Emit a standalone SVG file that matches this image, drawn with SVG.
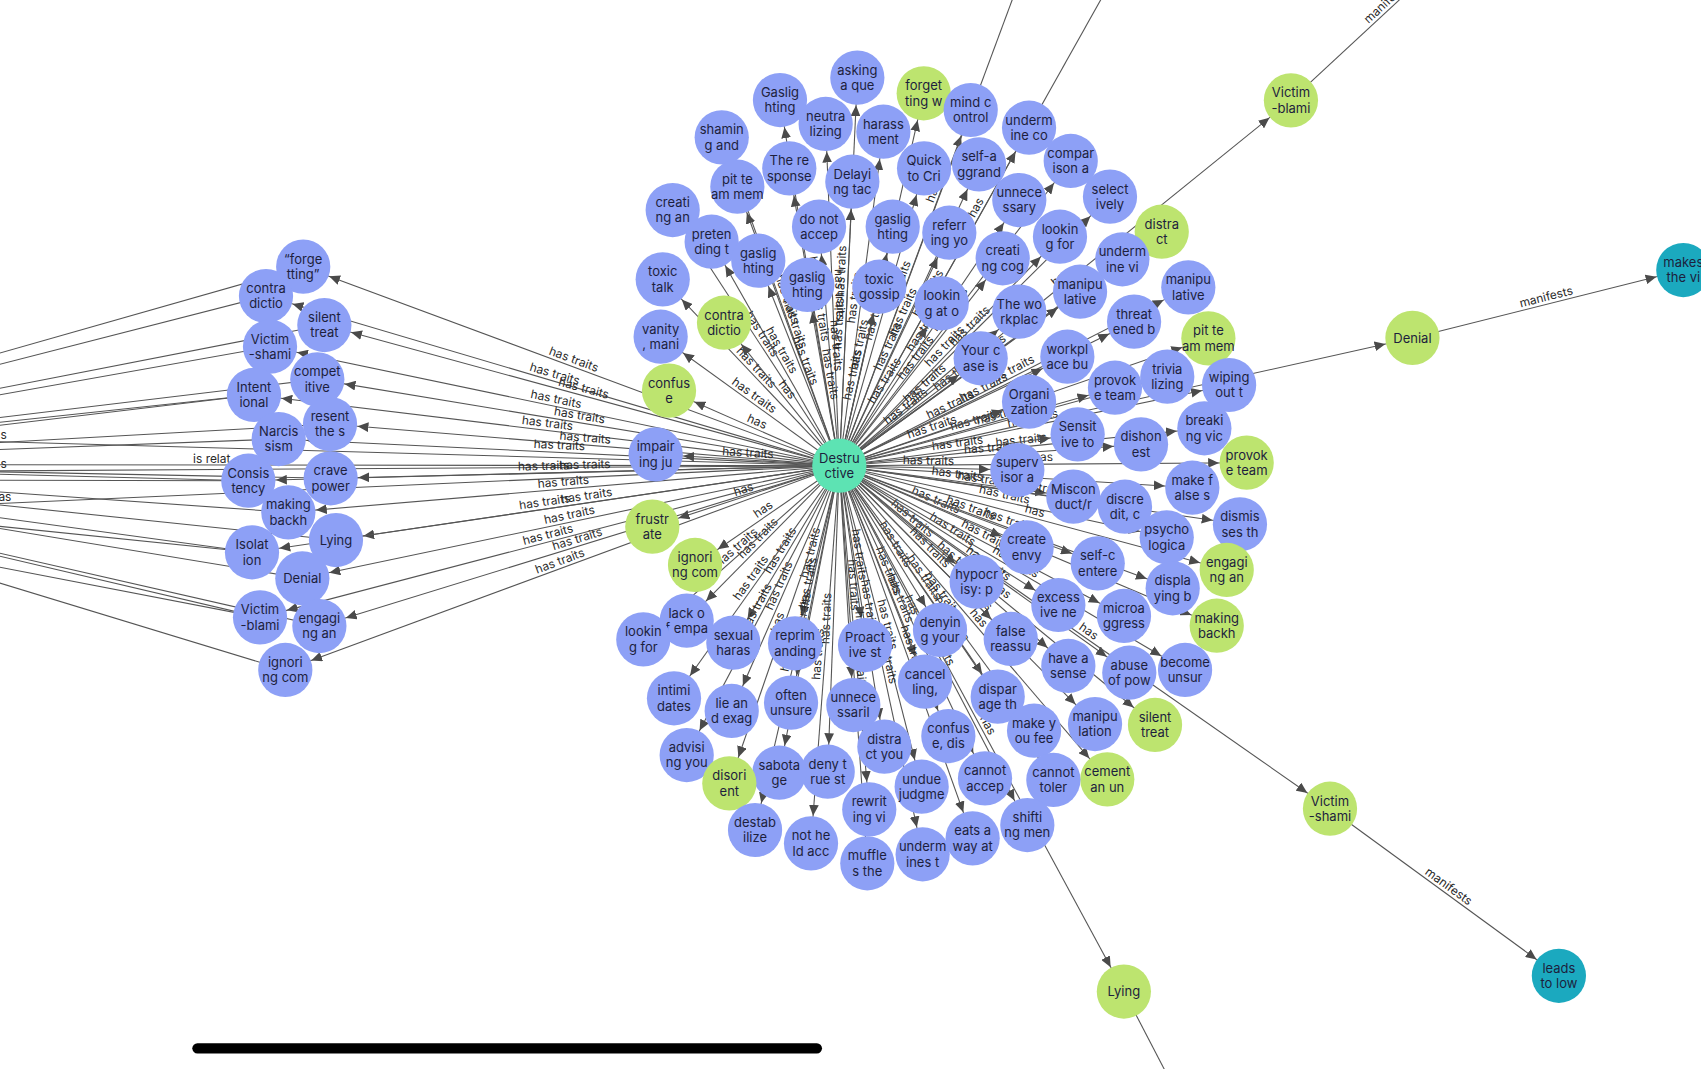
<svg xmlns="http://www.w3.org/2000/svg" width="1701" height="1069" viewBox="0 0 1701 1069">
<style>
.e{stroke:#555;stroke-width:1;fill:none}
.s{marker-start:url(#a)}
.t{marker-end:url(#a)}
text{font-family:Inter,"Noto Sans","DejaVu Sans",sans-serif}
.lb{font-size:11px;fill:#2a2a2a;text-anchor:middle}
.frag{font-size:11px;fill:#2a2a2a}
.nd text{font-size:12px;fill:#1d1f3d;text-anchor:middle}
.b circle{fill:#8da0f6}
.g circle{fill:#bde46f}
.h circle{fill:#5de3b3}
.tl circle{fill:#1ba9bf}
</style>
<defs>
<marker id="a" markerUnits="userSpaceOnUse" markerWidth="10" markerHeight="9" refX="35.5" refY="4.5" orient="auto-start-reverse"><path d="M0,0L10,4.5L0,9Z" fill="#4a4a4a"/></marker>
</defs>
<rect width="1701" height="1069" fill="#fff"/>
<g transform="scale(1.08482)">
<g id="connectors">
<path class="e" d="M-360,428L279.5,245.8"/>
<path class="e" d="M-360,428L245.2,272.9"/>
<path class="e" d="M-360,428L299,299.6"/>
<path class="e" d="M-360,428L248.9,319.6"/>
<path class="e" d="M-360,428L292.5,349.7"/>
<path class="e" d="M-360,428L234.1,364.1"/>
<path class="e" d="M-360,428L304.2,390.9"/>
<path class="e" d="M-360,428L256.9,404.7"/>
<path class="e" d="M-360,428L228.9,443.1"/>
<path class="e" d="M-360,428L304.8,440.9"/>
<path class="e" d="M-360,428L265.8,472.3"/>
<path class="e" d="M-360,428L309.7,497.8"/>
<path class="e" d="M-360,428L232.3,509.1"/>
<path class="e" d="M-360,428L278.7,533.1"/>
<path class="e" d="M-360,428L239.7,569.1"/>
<path class="e" d="M-360,428L294.4,577.1"/>
<path class="e" d="M-360,428L263,617.6"/>
<path class="e" d="M-420,442L234.1,364.1"/>
<path class="e" d="M-420,442L228.9,443.1"/>
<path class="e" d="M-420,442L232.3,509.1"/>
<path class="e" d="M-420,442L239.7,569.1"/>
<path class="e" d="M-360,428L773.7,429.3"/>
<text class="frag" x="178" y="426.5">is relat</text>
<path class="e" d="M-808,384L773.7,429.3"/>
<path class="e" d="M-808,439L773.7,429.3"/>
<path class="e" d="M-775,499L773.7,429.3"/>
<text class="frag" x="0.5" y="405">s</text>
<text class="frag" x="0.5" y="431.5">s</text>
<text class="frag" x="-1.5" y="461.5">as</text>
<path id="el1" class="e s" d="M279.5,245.8L773.7,429.3"/><text class="lb" dy="-3"><textPath href="#el1" startOffset="50%">has traits</textPath></text>
<path id="el2" class="e s" d="M245.2,272.9L773.7,429.3"/><text class="lb" dy="-3"><textPath href="#el2" startOffset="50%">has traits</textPath></text>
<path id="el3" class="e s" d="M299,299.6L773.7,429.3"/><text class="lb" dy="-3"><textPath href="#el3" startOffset="50%">has traits</textPath></text>
<path id="el4" class="e s" d="M248.9,319.6L773.7,429.3"/><text class="lb" dy="-3"><textPath href="#el4" startOffset="50%">has traits</textPath></text>
<path id="el5" class="e s" d="M292.5,349.7L773.7,429.3"/><text class="lb" dy="-3"><textPath href="#el5" startOffset="50%">has traits</textPath></text>
<path id="el6" class="e s" d="M234.1,364.1L773.7,429.3"/><text class="lb" dy="-3"><textPath href="#el6" startOffset="50%">has traits</textPath></text>
<path id="el7" class="e s" d="M304.2,390.9L773.7,429.3"/><text class="lb" dy="-3"><textPath href="#el7" startOffset="50%">has traits</textPath></text>
<path id="el8" class="e s" d="M256.9,404.7L773.7,429.3"/><text class="lb" dy="-3"><textPath href="#el8" startOffset="50%">has traits</textPath></text>
<path id="el9" class="e s" d="M228.9,443.1L773.7,429.3"/><text class="lb" dy="-3"><textPath href="#el9" startOffset="50%">has traits</textPath></text>
<path id="el10" class="e s" d="M304.8,440.9L773.7,429.3"/><text class="lb" dy="-3"><textPath href="#el10" startOffset="50%">has traits</textPath></text>
<path id="el11" class="e s" d="M265.8,472.3L773.7,429.3"/><text class="lb" dy="-3"><textPath href="#el11" startOffset="50%">has traits</textPath></text>
<path id="el12" class="e s" d="M309.7,497.8L773.7,429.3"/><text class="lb" dy="-3"><textPath href="#el12" startOffset="50%">has traits</textPath></text>
<path id="el13" class="e s" d="M232.3,509.1L773.7,429.3"/><text class="lb" dy="-3"><textPath href="#el13" startOffset="50%">has traits</textPath></text>
<path id="el14" class="e s" d="M278.7,533.1L773.7,429.3"/><text class="lb" dy="-3"><textPath href="#el14" startOffset="50%">has traits</textPath></text>
<path id="el15" class="e s" d="M239.7,569.1L773.7,429.3"/><text class="lb" dy="-3"><textPath href="#el15" startOffset="50%">has traits</textPath></text>
<path id="el16" class="e s" d="M294.4,577.1L773.7,429.3"/><text class="lb" dy="-3"><textPath href="#el16" startOffset="50%">has traits</textPath></text>
<path id="el17" class="e s" d="M263,617.6L773.7,429.3"/><text class="lb" dy="-3"><textPath href="#el17" startOffset="50%">has traits</textPath></text>
<path id="r1" class="e t" d="M773.7,429.3L790.3,71.6"/><text class="lb" dy="-3"><textPath href="#r1" startOffset="50%">has traits</textPath></text>
<path id="r2" class="e s" d="M719,92.2L773.7,429.3"/><text class="lb" dy="-3"><textPath href="#r2" startOffset="50%">has traits</textPath></text>
<path id="r3" class="e t" d="M773.7,429.3L851.5,86"/><text class="lb" dy="-3"><textPath href="#r3" startOffset="50%">has</textPath></text>
<path id="r4" class="e s" d="M761.1,114.3L773.7,429.3"/><text class="lb" dy="-3"><textPath href="#r4" startOffset="50%">has traits</textPath></text>
<path id="r5" class="e t" d="M773.7,429.3L814.3,121.4"/><text class="lb" dy="-3"><textPath href="#r5" startOffset="50%">has traits</textPath></text>
<path id="r6" class="e s" d="M665.3,126.6L773.7,429.3"/><text class="lb" dy="-3"><textPath href="#r6" startOffset="50%">has traits</textPath></text>
<path id="r7" class="e s" d="M727.6,155.2L773.7,429.3"/><text class="lb" dy="-3"><textPath href="#r7" startOffset="50%">has traits</textPath></text>
<path id="r8" class="e t" d="M773.7,429.3L785.7,167.5"/><text class="lb" dy="-3"><textPath href="#r8" startOffset="50%">has traits</textPath></text>
<path id="r9" class="e t" d="M773.7,429.3L851.8,155.2"/><text class="lb" dy="-3"><textPath href="#r9" startOffset="50%">has traits</textPath></text>
<path id="r10" class="e s" d="M679.7,172.1L773.7,429.3"/><text class="lb" dy="-3"><textPath href="#r10" startOffset="50%">has traits</textPath></text>
<path id="r11" class="e s" d="M620.1,193.6L773.7,429.3"/><text class="lb" dy="-3"><textPath href="#r11" startOffset="50%">has traits</textPath></text>
<path id="r12" class="e s" d="M755,209L773.7,429.3"/><text class="lb" dy="-3"><textPath href="#r12" startOffset="50%">has traits</textPath></text>
<path id="r13" class="e t" d="M773.7,429.3L822.9,209"/><text class="lb" dy="-3"><textPath href="#r13" startOffset="50%">has traits</textPath></text>
<path id="r14" class="e s" d="M656,222.8L773.7,429.3"/><text class="lb" dy="-3"><textPath href="#r14" startOffset="50%">has traits</textPath></text>
<path id="r15" class="e s" d="M699,240.3L773.7,429.3"/><text class="lb" dy="-3"><textPath href="#r15" startOffset="50%">has traits</textPath></text>
<path id="r16" class="e s" d="M610.9,257.5L773.7,429.3"/><text class="lb" dy="-3"><textPath href="#r16" startOffset="50%">has traits</textPath></text>
<path id="r17" class="e s" d="M744.2,262.7L773.7,429.3"/><text class="lb" dy="-3"><textPath href="#r17" startOffset="50%">has traits</textPath></text>
<path id="r18" class="e t" d="M773.7,429.3L810.6,264.3"/><text class="lb" dy="-3"><textPath href="#r18" startOffset="50%">has traits</textPath></text>
<path id="r19" class="e s" d="M667.4,297.5L773.7,429.3"/><text class="lb" dy="-3"><textPath href="#r19" startOffset="50%">has</textPath></text>
<path id="r20" class="e s" d="M609,310.4L773.7,429.3"/><text class="lb" dy="-3"><textPath href="#r20" startOffset="50%">has traits</textPath></text>
<path id="r21" class="e t" d="M773.7,429.3L894.8,101.4"/><text class="lb" dy="-3"><textPath href="#r21" startOffset="50%">has traits</textPath></text>
<path id="r22" class="e t" d="M773.7,429.3L948.6,117.7"/><text class="lb" dy="-3"><textPath href="#r22" startOffset="50%">has traits</textPath></text>
<path id="r23" class="e t" d="M773.7,429.3L902.5,151.5"/><text class="lb" dy="-3"><textPath href="#r23" startOffset="50%">has traits</textPath></text>
<path id="r24" class="e t" d="M773.7,429.3L987,148.4"/><text class="lb" dy="-3"><textPath href="#r24" startOffset="50%">has traits</textPath></text>
<path id="r25" class="e t" d="M773.7,429.3L939.6,184.4"/><text class="lb" dy="-3"><textPath href="#r25" startOffset="50%">has traits</textPath></text>
<path id="r26" class="e t" d="M773.7,429.3L1023.2,181.3"/><text class="lb" dy="-3"><textPath href="#r26" startOffset="50%">has traits</textPath></text>
<path id="r27" class="e t" d="M773.7,429.3L875.1,214.5"/><text class="lb" dy="-3"><textPath href="#r27" startOffset="50%">has traits</textPath></text>
<path id="r28" class="e t" d="M773.7,429.3L1070.9,213.6"/><text class="lb" dy="-3"><textPath href="#r28" startOffset="50%">has</textPath></text>
<path id="r29" class="e t" d="M773.7,429.3L977.1,218.2"/><text class="lb" dy="-3"><textPath href="#r29" startOffset="50%">has traits</textPath></text>
<path id="r30" class="e t" d="M773.7,429.3L924.3,238.1"/><text class="lb" dy="-3"><textPath href="#r30" startOffset="50%">has traits</textPath></text>
<path id="r31" class="e t" d="M773.7,429.3L1034.6,239"/><text class="lb" dy="-3"><textPath href="#r31" startOffset="50%">has traits</textPath></text>
<path id="r32" class="e t" d="M773.7,429.3L868.1,279.6"/><text class="lb" dy="-3"><textPath href="#r32" startOffset="50%">has traits</textPath></text>
<path id="r33" class="e t" d="M773.7,429.3L995.6,268.9"/><text class="lb" dy="-3"><textPath href="#r33" startOffset="50%">has traits</textPath></text>
<path id="r34" class="e t" d="M773.7,429.3L1095.4,264.9"/><text class="lb" dy="-3"><textPath href="#r34" startOffset="50%">has traits</textPath></text>
<path id="r35" class="e t" d="M773.7,429.3L939.6,287.3"/><text class="lb" dy="-3"><textPath href="#r35" startOffset="50%">has traits</textPath></text>
<path id="r36" class="e t" d="M773.7,429.3L1045.4,296.5"/><text class="lb" dy="-3"><textPath href="#r36" startOffset="50%">has traits</textPath></text>
<path id="r37" class="e t" d="M773.7,429.3L1113.9,311.9"/><text class="lb" dy="-3"><textPath href="#r37" startOffset="50%">has</textPath></text>
<path id="r38" class="e t" d="M773.7,429.3L904,330.3"/><text class="lb" dy="-3"><textPath href="#r38" startOffset="50%">has traits</textPath></text>
<path id="r39" class="e t" d="M773.7,429.3L983.9,328.8"/><text class="lb" dy="-3"><textPath href="#r39" startOffset="50%">has traits</textPath></text>
<path id="r40" class="e t" d="M773.7,429.3L1076,347.2"/><text class="lb" dy="-3"><textPath href="#r40" startOffset="50%">has traits</textPath></text>
<path id="r41" class="e t" d="M773.7,429.3L1027.8,357.4"/><text class="lb" dy="-3"><textPath href="#r41" startOffset="50%">has traits</textPath></text>
<path id="r42" class="e t" d="M773.7,429.3L1133,354.9"/><text class="lb" dy="-3"><textPath href="#r42" startOffset="50%">has traits</textPath></text>
<path id="r43" class="e t" d="M773.7,429.3L948.6,370.3"/><text class="lb" dy="-3"><textPath href="#r43" startOffset="50%">has traits</textPath></text>
<path id="r44" class="e t" d="M773.7,429.3L1110.2,394.8"/><text class="lb" dy="-3"><textPath href="#r44" startOffset="50%">has traits</textPath></text>
<path id="r45" class="e t" d="M773.7,429.3L993.4,400.4"/><text class="lb" dy="-3"><textPath href="#r45" startOffset="50%">has traits</textPath></text>
<path id="r46" class="e t" d="M773.7,429.3L1051.8,409.6"/><text class="lb" dy="-3"><textPath href="#r46" startOffset="50%">has traits</textPath></text>
<path id="r47" class="e t" d="M773.7,429.3L1149.2,426.5"/><text class="lb" dy="-3"><textPath href="#r47" startOffset="50%">has</textPath></text>
<path id="r48" class="e t" d="M773.7,429.3L937.8,433.3"/><text class="lb" dy="-3"><textPath href="#r48" startOffset="50%">has traits</textPath></text>
<path id="r49" class="e t" d="M773.7,429.3L1099.1,449.6"/><text class="lb" dy="-3"><textPath href="#r49" startOffset="50%">has traits</textPath></text>
<path id="r50" class="e t" d="M773.7,429.3L989.4,457.8"/><text class="lb" dy="-3"><textPath href="#r50" startOffset="50%">has traits</textPath></text>
<path id="r51" class="e t" d="M773.7,429.3L1037,467.1"/><text class="lb" dy="-3"><textPath href="#r51" startOffset="50%">has traits</textPath></text>
<path id="r52" class="e t" d="M773.7,429.3L1143,483.3"/><text class="lb" dy="-3"><textPath href="#r52" startOffset="50%">has traits</textPath></text>
<path id="r53" class="e t" d="M773.7,429.3L1075.5,495.3"/><text class="lb" dy="-3"><textPath href="#r53" startOffset="50%">has traits</textPath></text>
<path id="r54" class="e t" d="M773.7,429.3L946.4,504.5"/><text class="lb" dy="-3"><textPath href="#r54" startOffset="50%">has traits</textPath></text>
<path id="r55" class="e t" d="M773.7,429.3L1130.8,525.4"/><text class="lb" dy="-3"><textPath href="#r55" startOffset="50%">has</textPath></text>
<path id="r56" class="e t" d="M773.7,429.3L1011.9,519.3"/><text class="lb" dy="-3"><textPath href="#r56" startOffset="50%">has traits</textPath></text>
<path id="r57" class="e t" d="M773.7,429.3L900.3,536.2"/><text class="lb" dy="-3"><textPath href="#r57" startOffset="50%">has traits</textPath></text>
<path id="r58" class="e t" d="M773.7,429.3L1081,542.3"/><text class="lb" dy="-3"><textPath href="#r58" startOffset="50%">has traits</textPath></text>
<path id="r59" class="e t" d="M773.7,429.3L975.6,557.7"/><text class="lb" dy="-3"><textPath href="#r59" startOffset="50%">has traits</textPath></text>
<path id="r60" class="e t" d="M773.7,429.3L1036.1,567.8"/><text class="lb" dy="-3"><textPath href="#r60" startOffset="50%">has traits</textPath></text>
<path id="r61" class="e t" d="M773.7,429.3L1121.6,576.8"/><text class="lb" dy="-3"><textPath href="#r61" startOffset="50%">has</textPath></text>
<path id="r62" class="e t" d="M773.7,429.3L866.5,580.7"/><text class="lb" dy="-3"><textPath href="#r62" startOffset="50%">has traits</textPath></text>
<path id="r63" class="e t" d="M773.7,429.3L931.7,589"/><text class="lb" dy="-3"><textPath href="#r63" startOffset="50%">has traits</textPath></text>
<path id="r64" class="e t" d="M773.7,429.3L984.8,613.9"/><text class="lb" dy="-3"><textPath href="#r64" startOffset="50%">has traits</textPath></text>
<path id="r65" class="e t" d="M773.7,429.3L1041,620.1"/><text class="lb" dy="-3"><textPath href="#r65" startOffset="50%">has traits</textPath></text>
<path id="r66" class="e t" d="M773.7,429.3L1092.4,617.6"/><text class="lb" dy="-3"><textPath href="#r66" startOffset="50%">has traits</textPath></text>
<path id="r67" class="e t" d="M773.7,429.3L852.7,628.4"/><text class="lb" dy="-3"><textPath href="#r67" startOffset="50%">has traits</textPath></text>
<path id="r68" class="e t" d="M773.7,429.3L919.7,642.2"/><text class="lb" dy="-3"><textPath href="#r68" startOffset="50%">has traits</textPath></text>
<path id="r69" class="e t" d="M773.7,429.3L1009.4,667.4"/><text class="lb" dy="-3"><textPath href="#r69" startOffset="50%">has traits</textPath></text>
<path id="r70" class="e t" d="M773.7,429.3L1064.7,668.3"/><text class="lb" dy="-3"><textPath href="#r70" startOffset="50%">has</textPath></text>
<path id="r71" class="e t" d="M773.7,429.3L874.2,678.5"/><text class="lb" dy="-3"><textPath href="#r71" startOffset="50%">has traits</textPath></text>
<path id="r72" class="e t" d="M773.7,429.3L953.2,673.6"/><text class="lb" dy="-3"><textPath href="#r72" startOffset="50%">has traits</textPath></text>
<path id="r73" class="e t" d="M773.7,429.3L908,717.5"/><text class="lb" dy="-3"><textPath href="#r73" startOffset="50%">has traits</textPath></text>
<path id="r74" class="e t" d="M773.7,429.3L971,719"/><text class="lb" dy="-3"><textPath href="#r74" startOffset="50%">has traits</textPath></text>
<path id="r75" class="e t" d="M773.7,429.3L1020.7,718.4"/><text class="lb" dy="-3"><textPath href="#r75" startOffset="50%">has</textPath></text>
<path id="r76" class="e t" d="M773.7,429.3L849.6,725.2"/><text class="lb" dy="-3"><textPath href="#r76" startOffset="50%">has traits</textPath></text>
<path id="r77" class="e t" d="M773.7,429.3L947,760.5"/><text class="lb" dy="-3"><textPath href="#r77" startOffset="50%">has traits</textPath></text>
<path id="r78" class="e t" d="M773.7,429.3L896.6,772.8"/><text class="lb" dy="-3"><textPath href="#r78" startOffset="50%">has traits</textPath></text>
<path id="r79" class="e t" d="M773.7,429.3L850.5,787.5"/><text class="lb" dy="-3"><textPath href="#r79" startOffset="50%">has traits</textPath></text>
<path id="r80" class="e s" d="M633,572.1L773.7,429.3"/><text class="lb" dy="-3"><textPath href="#r80" startOffset="50%">has traits</textPath></text>
<path id="r81" class="e s" d="M593,589.4L773.7,429.3"/><text class="lb" dy="-3"><textPath href="#r81" startOffset="50%">has traits</textPath></text>
<path id="r82" class="e s" d="M676,592.4L773.7,429.3"/><text class="lb" dy="-3"><textPath href="#r82" startOffset="50%">has traits</textPath></text>
<path id="r83" class="e s" d="M732.9,593L773.7,429.3"/><text class="lb" dy="-3"><textPath href="#r83" startOffset="50%">has traits</textPath></text>
<path id="r84" class="e t" d="M773.7,429.3L797.4,594.6"/><text class="lb" dy="-3"><textPath href="#r84" startOffset="50%">has traits</textPath></text>
<path id="r85" class="e s" d="M621.3,643.7L773.7,429.3"/><text class="lb" dy="-3"><textPath href="#r85" startOffset="50%">has traits</textPath></text>
<path id="r86" class="e s" d="M674.5,655.4L773.7,429.3"/><text class="lb" dy="-3"><textPath href="#r86" startOffset="50%">has traits</textPath></text>
<path id="r87" class="e s" d="M729.2,647.7L773.7,429.3"/><text class="lb" dy="-3"><textPath href="#r87" startOffset="50%">has traits</textPath></text>
<path id="r88" class="e t" d="M773.7,429.3L786.6,649.9"/><text class="lb" dy="-3"><textPath href="#r88" startOffset="50%">has traits</textPath></text>
<path id="r89" class="e s" d="M633,696L773.7,429.3"/><text class="lb" dy="-3"><textPath href="#r89" startOffset="50%">has traits</textPath></text>
<path id="r90" class="e s" d="M672.3,722.1L773.7,429.3"/><text class="lb" dy="-3"><textPath href="#r90" startOffset="50%">has</textPath></text>
<path id="r91" class="e s" d="M718.4,712.3L773.7,429.3"/><text class="lb" dy="-3"><textPath href="#r91" startOffset="50%">has traits</textPath></text>
<path id="r92" class="e s" d="M763,711.4L773.7,429.3"/><text class="lb" dy="-3"><textPath href="#r92" startOffset="50%">has traits</textPath></text>
<path id="r93" class="e t" d="M773.7,429.3L815.2,688.3"/><text class="lb" dy="-3"><textPath href="#r93" startOffset="50%">has traits</textPath></text>
<path id="r94" class="e t" d="M773.7,429.3L801.3,746.1"/><text class="lb" dy="-3"><textPath href="#r94" startOffset="50%">has traits</textPath></text>
<path id="r95" class="e s" d="M696,765.1L773.7,429.3"/><text class="lb" dy="-3"><textPath href="#r95" startOffset="50%">has traits</textPath></text>
<path id="r96" class="e s" d="M747.6,777.4L773.7,429.3"/><text class="lb" dy="-3"><textPath href="#r96" startOffset="50%">has traits</textPath></text>
<path id="r97" class="e t" d="M773.7,429.3L799.5,795.8"/><text class="lb" dy="-3"><textPath href="#r97" startOffset="50%">has traits</textPath></text>
<path id="r98" class="e s" d="M616.7,360.1L773.7,429.3"/><text class="lb" dy="-3"><textPath href="#r98" startOffset="50%">has</textPath></text>
<path id="r99" class="e s" d="M604.4,418.8L773.7,429.3"/><text class="lb" dy="-3"><textPath href="#r99" startOffset="50%">has traits</textPath></text>
<path id="r100" class="e s" d="M601.3,485.5L773.7,429.3"/><text class="lb" dy="-3"><textPath href="#r100" startOffset="50%">has</textPath></text>
<path id="r101" class="e s" d="M640.7,520.8L773.7,429.3"/><text class="lb" dy="-3"><textPath href="#r101" startOffset="50%">has</textPath></text>
<path id="f1" class="e t" d="M773.7,429.3L1190,92.5"/><text class="lb" dy="-3"><textPath href="#f1" startOffset="50%">has</textPath></text>
<path id="f2" class="e t" d="M773.7,429.3L1302,311.5"/><text class="lb" dy="-3"><textPath href="#f2" startOffset="50%">has</textPath></text>
<path id="f3" class="e t" d="M773.7,429.3L1226,745.5"/><text class="lb" dy="-3"><textPath href="#f3" startOffset="50%">has</textPath></text>
<path id="f4" class="e t" d="M773.7,429.3L1036,914"/><text class="lb" dy="-3"><textPath href="#f4" startOffset="50%">has</textPath></text>
<path id="o1" class="e t" d="M773.7,429.3L959,-70"/><text class="lb" dy="-3"><textPath href="#o1" startOffset="50%">has</textPath></text>
<path id="o2" class="e t" d="M773.7,429.3L1037,-40"/><text class="lb" dy="-3"><textPath href="#o2" startOffset="50%">has</textPath></text>
<path id="m1" class="e t" d="M1190,92.5L1374,-78"/><text class="lb" dy="-3"><textPath href="#m1" startOffset="50%">manifests</textPath></text>
<path id="m2" class="e t" d="M1302,311.5L1551.7,248.9"/><text class="lb" dy="-3"><textPath href="#m2" startOffset="50%">manifests</textPath></text>
<path id="m3" class="e t" d="M1226,745.5L1437,899.5"/><text class="lb" dy="-3"><textPath href="#m3" startOffset="50%">manifests</textPath></text>
<path id="m4" class="e t" d="M1036,914L1140,1114"/>
</g>
<g id="nodes">
<g id="n_forgetting" class="nd b" transform="translate(279.5,245.8)"><circle r="25"/><text><tspan x="0" y="-2.7">“forge</tspan><tspan x="0" y="11.3">tting”</tspan></text></g>
<g id="n_contradictio_l" class="nd b" transform="translate(245.2,272.9)"><circle r="25"/><text><tspan x="0" y="-2.7">contra</tspan><tspan x="0" y="11.3">dictio</tspan></text></g>
<g id="n_victimshami_l" class="nd b" transform="translate(248.9,319.6)"><circle r="25"/><text><tspan x="0" y="-2.7">Victim</tspan><tspan x="0" y="11.3">-shami</tspan></text></g>
<g id="n_silent_l" class="nd b" transform="translate(299,299.6)"><circle r="25"/><text><tspan x="0" y="-2.7">silent</tspan><tspan x="0" y="11.3">treat</tspan></text></g>
<g id="n_intentional" class="nd b" transform="translate(234.1,364.1)"><circle r="25"/><text><tspan x="0" y="-2.7">Intent</tspan><tspan x="0" y="11.3">ional</tspan></text></g>
<g id="n_competitive" class="nd b" transform="translate(292.5,349.7)"><circle r="25"/><text><tspan x="0" y="-2.7">compet</tspan><tspan x="0" y="11.3">itive</tspan></text></g>
<g id="n_narcissism" class="nd b" transform="translate(256.9,404.7)"><circle r="25"/><text><tspan x="0" y="-2.7">Narcis</tspan><tspan x="0" y="11.3">sism</tspan></text></g>
<g id="n_resent" class="nd b" transform="translate(304.2,390.9)"><circle r="25"/><text><tspan x="0" y="-2.7">resent</tspan><tspan x="0" y="11.3">the s</tspan></text></g>
<g id="n_consistency" class="nd b" transform="translate(228.9,443.1)"><circle r="25"/><text><tspan x="0" y="-2.7">Consis</tspan><tspan x="0" y="11.3">tency</tspan></text></g>
<g id="n_crave" class="nd b" transform="translate(304.8,440.9)"><circle r="25"/><text><tspan x="0" y="-2.7">crave</tspan><tspan x="0" y="11.3">power</tspan></text></g>
<g id="n_making_l" class="nd b" transform="translate(265.8,472.3)"><circle r="25"/><text><tspan x="0" y="-2.7">making</tspan><tspan x="0" y="11.3">backh</tspan></text></g>
<g id="n_isolation" class="nd b" transform="translate(232.3,509.1)"><circle r="25"/><text><tspan x="0" y="-2.7">Isolat</tspan><tspan x="0" y="11.3">ion</tspan></text></g>
<g id="n_lying_l" class="nd b" transform="translate(309.7,497.8)"><circle r="25"/><text y="4.3">Lying</text></g>
<g id="n_denial_l" class="nd b" transform="translate(278.7,533.1)"><circle r="25"/><text y="4.3">Denial</text></g>
<g id="n_victimblami_l" class="nd b" transform="translate(239.7,569.1)"><circle r="25"/><text><tspan x="0" y="-2.7">Victim</tspan><tspan x="0" y="11.3">-blami</tspan></text></g>
<g id="n_engaging_l" class="nd b" transform="translate(294.4,577.1)"><circle r="25"/><text><tspan x="0" y="-2.7">engagi</tspan><tspan x="0" y="11.3">ng an</tspan></text></g>
<g id="n_ignoring_l" class="nd b" transform="translate(263,617.6)"><circle r="25"/><text><tspan x="0" y="-2.7">ignori</tspan><tspan x="0" y="11.3">ng com</tspan></text></g>
<g id="n_asking" class="nd b" transform="translate(790.3,71.6)"><circle r="25"/><text><tspan x="0" y="-2.7">asking</tspan><tspan x="0" y="11.3">a que</tspan></text></g>
<g id="n_gaslighting1" class="nd b" transform="translate(719,92.2)"><circle r="25"/><text><tspan x="0" y="-2.7">Gaslig</tspan><tspan x="0" y="11.3">hting</tspan></text></g>
<g id="n_forgettingw" class="nd g" transform="translate(851.5,86)"><circle r="25"/><text><tspan x="0" y="-2.7">forget</tspan><tspan x="0" y="11.3">ting w</tspan></text></g>
<g id="n_shaming" class="nd b" transform="translate(665.3,126.6)"><circle r="25"/><text><tspan x="0" y="-2.7">shamin</tspan><tspan x="0" y="11.3">g and</tspan></text></g>
<g id="n_neutralizing" class="nd b" transform="translate(761.1,114.3)"><circle r="25"/><text><tspan x="0" y="-2.7">neutra</tspan><tspan x="0" y="11.3">lizing</tspan></text></g>
<g id="n_harassment" class="nd b" transform="translate(814.3,121.4)"><circle r="25"/><text><tspan x="0" y="-2.7">harass</tspan><tspan x="0" y="11.3">ment</tspan></text></g>
<g id="n_mindcontrol" class="nd b" transform="translate(894.8,101.4)"><circle r="25"/><text><tspan x="0" y="-2.7">mind c</tspan><tspan x="0" y="11.3">ontrol</tspan></text></g>
<g id="n_underminecontrol" class="nd b" transform="translate(948.6,117.7)"><circle r="25"/><text><tspan x="0" y="-2.7">underm</tspan><tspan x="0" y="11.3">ine co</tspan></text></g>
<g id="n_response" class="nd b" transform="translate(727.6,155.2)"><circle r="25"/><text><tspan x="0" y="-2.7">The re</tspan><tspan x="0" y="11.3">sponse</tspan></text></g>
<g id="n_delaying" class="nd b" transform="translate(785.7,167.5)"><circle r="25"/><text><tspan x="0" y="-2.7">Delayi</tspan><tspan x="0" y="11.3">ng tac</tspan></text></g>
<g id="n_quick" class="nd b" transform="translate(851.8,155.2)"><circle r="25"/><text><tspan x="0" y="-2.7">Quick</tspan><tspan x="0" y="11.3">to Cri</tspan></text></g>
<g id="n_selfaggrand" class="nd b" transform="translate(902.5,151.5)"><circle r="25"/><text><tspan x="0" y="-2.7">self-a</tspan><tspan x="0" y="11.3">ggrand</tspan></text></g>
<g id="n_comparison" class="nd b" transform="translate(987,148.4)"><circle r="25"/><text><tspan x="0" y="-2.7">compar</tspan><tspan x="0" y="11.3">ison a</tspan></text></g>
<g id="n_pitteam1" class="nd b" transform="translate(679.7,172.1)"><circle r="25"/><text><tspan x="0" y="-2.7">pit te</tspan><tspan x="0" y="11.3">am mem</tspan></text></g>
<g id="n_creatingan" class="nd b" transform="translate(620.1,193.6)"><circle r="25"/><text><tspan x="0" y="-2.7">creati</tspan><tspan x="0" y="11.3">ng an</tspan></text></g>
<g id="n_donotaccep" class="nd b" transform="translate(755,209)"><circle r="25"/><text><tspan x="0" y="-2.7">do not</tspan><tspan x="0" y="11.3">accep</tspan></text></g>
<g id="n_gaslighting2" class="nd b" transform="translate(822.9,209)"><circle r="25"/><text><tspan x="0" y="-2.7">gaslig</tspan><tspan x="0" y="11.3">hting</tspan></text></g>
<g id="n_unnecessary" class="nd b" transform="translate(939.6,184.4)"><circle r="25"/><text><tspan x="0" y="-2.7">unnece</tspan><tspan x="0" y="11.3">ssary</tspan></text></g>
<g id="n_selectively" class="nd b" transform="translate(1023.2,181.3)"><circle r="25"/><text><tspan x="0" y="-2.7">select</tspan><tspan x="0" y="11.3">ively</tspan></text></g>
<g id="n_referring" class="nd b" transform="translate(875.1,214.5)"><circle r="25"/><text><tspan x="0" y="-2.7">referr</tspan><tspan x="0" y="11.3">ing yo</tspan></text></g>
<g id="n_distract" class="nd g" transform="translate(1070.9,213.6)"><circle r="25"/><text><tspan x="0" y="-2.7">distra</tspan><tspan x="0" y="11.3">ct</tspan></text></g>
<g id="n_lookingfor1" class="nd b" transform="translate(977.1,218.2)"><circle r="25"/><text><tspan x="0" y="-2.7">lookin</tspan><tspan x="0" y="11.3">g for</tspan></text></g>
<g id="n_pretending" class="nd b" transform="translate(656,222.8)"><circle r="25"/><text><tspan x="0" y="-2.7">preten</tspan><tspan x="0" y="11.3">ding t</tspan></text></g>
<g id="n_gaslighting3" class="nd b" transform="translate(699,240.3)"><circle r="25"/><text><tspan x="0" y="-2.7">gaslig</tspan><tspan x="0" y="11.3">hting</tspan></text></g>
<g id="n_creatingcog" class="nd b" transform="translate(924.3,238.1)"><circle r="25"/><text><tspan x="0" y="-2.7">creati</tspan><tspan x="0" y="11.3">ng cog</tspan></text></g>
<g id="n_underminevi" class="nd b" transform="translate(1034.6,239)"><circle r="25"/><text><tspan x="0" y="-2.7">underm</tspan><tspan x="0" y="11.3">ine vi</tspan></text></g>
<g id="n_toxictalk" class="nd b" transform="translate(610.9,257.5)"><circle r="25"/><text><tspan x="0" y="-2.7">toxic</tspan><tspan x="0" y="11.3">talk</tspan></text></g>
<g id="n_gaslighting4" class="nd b" transform="translate(744.2,262.7)"><circle r="25"/><text><tspan x="0" y="-2.7">gaslig</tspan><tspan x="0" y="11.3">hting</tspan></text></g>
<g id="n_toxicgossip" class="nd b" transform="translate(810.6,264.3)"><circle r="25"/><text><tspan x="0" y="-2.7">toxic</tspan><tspan x="0" y="11.3">gossip</tspan></text></g>
<g id="n_manipulative1" class="nd b" transform="translate(995.6,268.9)"><circle r="25"/><text><tspan x="0" y="-2.7">manipu</tspan><tspan x="0" y="11.3">lative</tspan></text></g>
<g id="n_manipulative2" class="nd b" transform="translate(1095.4,264.9)"><circle r="25"/><text><tspan x="0" y="-2.7">manipu</tspan><tspan x="0" y="11.3">lative</tspan></text></g>
<g id="n_lookingat" class="nd b" transform="translate(868.1,279.6)"><circle r="25"/><text><tspan x="0" y="-2.7">lookin</tspan><tspan x="0" y="11.3">g at o</tspan></text></g>
<g id="n_workplace1" class="nd b" transform="translate(939.6,287.3)"><circle r="25"/><text><tspan x="0" y="-2.7">The wo</tspan><tspan x="0" y="11.3">rkplac</tspan></text></g>
<g id="n_threatened" class="nd b" transform="translate(1045.4,296.5)"><circle r="25"/><text><tspan x="0" y="-2.7">threat</tspan><tspan x="0" y="11.3">ened b</tspan></text></g>
<g id="n_contradictio_c" class="nd g" transform="translate(667.4,297.5)"><circle r="25"/><text><tspan x="0" y="-2.7">contra</tspan><tspan x="0" y="11.3">dictio</tspan></text></g>
<g id="n_vanity" class="nd b" transform="translate(609,310.4)"><circle r="25"/><text><tspan x="0" y="-2.7">vanity</tspan><tspan x="0" y="11.3">, mani</tspan></text></g>
<g id="n_pitteam2" class="nd g" transform="translate(1113.9,311.9)"><circle r="25"/><text><tspan x="0" y="-2.7">pit te</tspan><tspan x="0" y="11.3">am mem</tspan></text></g>
<g id="n_yourcase" class="nd b" transform="translate(904,330.3)"><circle r="25"/><text><tspan x="0" y="-2.7">Your c</tspan><tspan x="0" y="11.3">ase is</tspan></text></g>
<g id="n_workplace2" class="nd b" transform="translate(983.9,328.8)"><circle r="25"/><text><tspan x="0" y="-2.7">workpl</tspan><tspan x="0" y="11.3">ace bu</tspan></text></g>
<g id="n_trivializing" class="nd b" transform="translate(1076,347.2)"><circle r="25"/><text><tspan x="0" y="-2.7">trivia</tspan><tspan x="0" y="11.3">lizing</tspan></text></g>
<g id="n_provoke1" class="nd b" transform="translate(1027.8,357.4)"><circle r="25"/><text><tspan x="0" y="-2.7">provok</tspan><tspan x="0" y="11.3">e team</tspan></text></g>
<g id="n_wiping" class="nd b" transform="translate(1133,354.9)"><circle r="25"/><text><tspan x="0" y="-2.7">wiping</tspan><tspan x="0" y="11.3">out t</tspan></text></g>
<g id="n_confuse" class="nd g" transform="translate(616.7,360.1)"><circle r="25"/><text><tspan x="0" y="-2.7">confus</tspan><tspan x="0" y="11.3">e</tspan></text></g>
<g id="n_organization" class="nd b" transform="translate(948.6,370.3)"><circle r="25"/><text><tspan x="0" y="-2.7">Organi</tspan><tspan x="0" y="11.3">zation</tspan></text></g>
<g id="n_breaking" class="nd b" transform="translate(1110.2,394.8)"><circle r="25"/><text><tspan x="0" y="-2.7">breaki</tspan><tspan x="0" y="11.3">ng vic</tspan></text></g>
<g id="n_sensitive" class="nd b" transform="translate(993.4,400.4)"><circle r="25"/><text><tspan x="0" y="-2.7">Sensit</tspan><tspan x="0" y="11.3">ive to</tspan></text></g>
<g id="n_dishonest" class="nd b" transform="translate(1051.8,409.6)"><circle r="25"/><text><tspan x="0" y="-2.7">dishon</tspan><tspan x="0" y="11.3">est</tspan></text></g>
<g id="n_impairing" class="nd b" transform="translate(604.4,418.8)"><circle r="25"/><text><tspan x="0" y="-2.7">impair</tspan><tspan x="0" y="11.3">ing ju</tspan></text></g>
<g id="n_provoke2" class="nd g" transform="translate(1149.2,426.5)"><circle r="25"/><text><tspan x="0" y="-2.7">provok</tspan><tspan x="0" y="11.3">e team</tspan></text></g>
<g id="n_supervisor" class="nd b" transform="translate(937.8,433.3)"><circle r="25"/><text><tspan x="0" y="-2.7">superv</tspan><tspan x="0" y="11.3">isor a</tspan></text></g>
<g id="n_makefalse" class="nd b" transform="translate(1099.1,449.6)"><circle r="25"/><text><tspan x="0" y="-2.7">make f</tspan><tspan x="0" y="11.3">alse s</tspan></text></g>
<g id="n_misconduct" class="nd b" transform="translate(989.4,457.8)"><circle r="25"/><text><tspan x="0" y="-2.7">Miscon</tspan><tspan x="0" y="11.3">duct/r</tspan></text></g>
<g id="n_discredit" class="nd b" transform="translate(1037,467.1)"><circle r="25"/><text><tspan x="0" y="-2.7">discre</tspan><tspan x="0" y="11.3">dit, c</tspan></text></g>
<g id="n_dismisses" class="nd b" transform="translate(1143,483.3)"><circle r="25"/><text><tspan x="0" y="-2.7">dismis</tspan><tspan x="0" y="11.3">ses th</tspan></text></g>
<g id="n_frustrate" class="nd g" transform="translate(601.3,485.5)"><circle r="25"/><text><tspan x="0" y="-2.7">frustr</tspan><tspan x="0" y="11.3">ate</tspan></text></g>
<g id="n_psychological" class="nd b" transform="translate(1075.5,495.3)"><circle r="25"/><text><tspan x="0" y="-2.7">psycho</tspan><tspan x="0" y="11.3">logica</tspan></text></g>
<g id="n_createenvy" class="nd b" transform="translate(946.4,504.5)"><circle r="25"/><text><tspan x="0" y="-2.7">create</tspan><tspan x="0" y="11.3">envy</tspan></text></g>
<g id="n_selfcentered" class="nd b" transform="translate(1011.9,519.3)"><circle r="25"/><text><tspan x="0" y="-2.7">self-c</tspan><tspan x="0" y="11.3">entere</tspan></text></g>
<g id="n_ignoring_c" class="nd g" transform="translate(640.7,520.8)"><circle r="25"/><text><tspan x="0" y="-2.7">ignori</tspan><tspan x="0" y="11.3">ng com</tspan></text></g>
<g id="n_engaging_c" class="nd g" transform="translate(1130.8,525.4)"><circle r="25"/><text><tspan x="0" y="-2.7">engagi</tspan><tspan x="0" y="11.3">ng an</tspan></text></g>
<g id="n_hypocrisy" class="nd b" transform="translate(900.3,536.2)"><circle r="25"/><text><tspan x="0" y="-2.7">hypocr</tspan><tspan x="0" y="11.3">isy: p</tspan></text></g>
<g id="n_displaying" class="nd b" transform="translate(1081,542.3)"><circle r="25"/><text><tspan x="0" y="-2.7">displa</tspan><tspan x="0" y="11.3">ying b</tspan></text></g>
<g id="n_excessive" class="nd b" transform="translate(975.6,557.7)"><circle r="25"/><text><tspan x="0" y="-2.7">excess</tspan><tspan x="0" y="11.3">ive ne</tspan></text></g>
<g id="n_microaggress" class="nd b" transform="translate(1036.1,567.8)"><circle r="25"/><text><tspan x="0" y="-2.7">microa</tspan><tspan x="0" y="11.3">ggress</tspan></text></g>
<g id="n_lackof" class="nd b" transform="translate(633,572.1)"><circle r="25"/><text><tspan x="0" y="-2.7">lack o</tspan><tspan x="0" y="11.3">f empa</tspan></text></g>
<g id="n_making_c" class="nd g" transform="translate(1121.6,576.8)"><circle r="25"/><text><tspan x="0" y="-2.7">making</tspan><tspan x="0" y="11.3">backh</tspan></text></g>
<g id="n_denying" class="nd b" transform="translate(866.5,580.7)"><circle r="25"/><text><tspan x="0" y="-2.7">denyin</tspan><tspan x="0" y="11.3">g your</tspan></text></g>
<g id="n_lookingfor2" class="nd b" transform="translate(593,589.4)"><circle r="25"/><text><tspan x="0" y="-2.7">lookin</tspan><tspan x="0" y="11.3">g for</tspan></text></g>
<g id="n_false" class="nd b" transform="translate(931.7,589)"><circle r="25"/><text><tspan x="0" y="-2.7">false</tspan><tspan x="0" y="11.3">reassu</tspan></text></g>
<g id="n_sexual" class="nd b" transform="translate(676,592.4)"><circle r="25"/><text><tspan x="0" y="-2.7">sexual</tspan><tspan x="0" y="11.3">haras</tspan></text></g>
<g id="n_reprimanding" class="nd b" transform="translate(732.9,593)"><circle r="25"/><text><tspan x="0" y="-2.7">reprim</tspan><tspan x="0" y="11.3">anding</tspan></text></g>
<g id="n_proactive" class="nd b" transform="translate(797.4,594.6)"><circle r="25"/><text><tspan x="0" y="-2.7">Proact</tspan><tspan x="0" y="11.3">ive st</tspan></text></g>
<g id="n_haveasense" class="nd b" transform="translate(984.8,613.9)"><circle r="25"/><text><tspan x="0" y="-2.7">have a</tspan><tspan x="0" y="11.3">sense</tspan></text></g>
<g id="n_become" class="nd b" transform="translate(1092.4,617.6)"><circle r="25"/><text><tspan x="0" y="-2.7">become</tspan><tspan x="0" y="11.3">unsur</tspan></text></g>
<g id="n_abuse" class="nd b" transform="translate(1041,620.1)"><circle r="25"/><text><tspan x="0" y="-2.7">abuse</tspan><tspan x="0" y="11.3">of pow</tspan></text></g>
<g id="n_cancelling" class="nd b" transform="translate(852.7,628.4)"><circle r="25"/><text><tspan x="0" y="-2.7">cancel</tspan><tspan x="0" y="11.3">ling,</tspan></text></g>
<g id="n_disparage" class="nd b" transform="translate(919.7,642.2)"><circle r="25"/><text><tspan x="0" y="-2.7">dispar</tspan><tspan x="0" y="11.3">age th</tspan></text></g>
<g id="n_intimidates" class="nd b" transform="translate(621.3,643.7)"><circle r="25"/><text><tspan x="0" y="-2.7">intimi</tspan><tspan x="0" y="11.3">dates</tspan></text></g>
<g id="n_often" class="nd b" transform="translate(729.2,647.7)"><circle r="25"/><text><tspan x="0" y="-2.7">often</tspan><tspan x="0" y="11.3">unsure</tspan></text></g>
<g id="n_unnecessaril" class="nd b" transform="translate(786.6,649.9)"><circle r="25"/><text><tspan x="0" y="-2.7">unnece</tspan><tspan x="0" y="11.3">ssaril</tspan></text></g>
<g id="n_lieand" class="nd b" transform="translate(674.5,655.4)"><circle r="25"/><text><tspan x="0" y="-2.7">lie an</tspan><tspan x="0" y="11.3">d exag</tspan></text></g>
<g id="n_manipulation" class="nd b" transform="translate(1009.4,667.4)"><circle r="25"/><text><tspan x="0" y="-2.7">manipu</tspan><tspan x="0" y="11.3">lation</tspan></text></g>
<g id="n_silent_c" class="nd g" transform="translate(1064.7,668.3)"><circle r="25"/><text><tspan x="0" y="-2.7">silent</tspan><tspan x="0" y="11.3">treat</tspan></text></g>
<g id="n_makeyou" class="nd b" transform="translate(953.2,673.6)"><circle r="25"/><text><tspan x="0" y="-2.7">make y</tspan><tspan x="0" y="11.3">ou fee</tspan></text></g>
<g id="n_confusedis" class="nd b" transform="translate(874.2,678.5)"><circle r="25"/><text><tspan x="0" y="-2.7">confus</tspan><tspan x="0" y="11.3">e, dis</tspan></text></g>
<g id="n_distractyou" class="nd b" transform="translate(815.2,688.3)"><circle r="25"/><text><tspan x="0" y="-2.7">distra</tspan><tspan x="0" y="11.3">ct you</tspan></text></g>
<g id="n_advising" class="nd b" transform="translate(633,696)"><circle r="25"/><text><tspan x="0" y="-2.7">advisi</tspan><tspan x="0" y="11.3">ng you</tspan></text></g>
<g id="n_denytrue" class="nd b" transform="translate(763,711.4)"><circle r="25"/><text><tspan x="0" y="-2.7">deny t</tspan><tspan x="0" y="11.3">rue st</tspan></text></g>
<g id="n_sabotage" class="nd b" transform="translate(718.4,712.3)"><circle r="25"/><text><tspan x="0" y="-2.7">sabota</tspan><tspan x="0" y="11.3">ge</tspan></text></g>
<g id="n_cannotaccep" class="nd b" transform="translate(908,717.5)"><circle r="25"/><text><tspan x="0" y="-2.7">cannot</tspan><tspan x="0" y="11.3">accep</tspan></text></g>
<g id="n_cement" class="nd g" transform="translate(1020.7,718.4)"><circle r="25"/><text><tspan x="0" y="-2.7">cement</tspan><tspan x="0" y="11.3">an un</tspan></text></g>
<g id="n_cannottoler" class="nd b" transform="translate(971,719)"><circle r="25"/><text><tspan x="0" y="-2.7">cannot</tspan><tspan x="0" y="11.3">toler</tspan></text></g>
<g id="n_disorient" class="nd g" transform="translate(672.3,722.1)"><circle r="25"/><text><tspan x="0" y="-2.7">disori</tspan><tspan x="0" y="11.3">ent</tspan></text></g>
<g id="n_undue" class="nd b" transform="translate(849.6,725.2)"><circle r="25"/><text><tspan x="0" y="-2.7">undue</tspan><tspan x="0" y="11.3">judgme</tspan></text></g>
<g id="n_rewriting" class="nd b" transform="translate(801.3,746.1)"><circle r="25"/><text><tspan x="0" y="-2.7">rewrit</tspan><tspan x="0" y="11.3">ing vi</tspan></text></g>
<g id="n_shifting" class="nd b" transform="translate(947,760.5)"><circle r="25"/><text><tspan x="0" y="-2.7">shifti</tspan><tspan x="0" y="11.3">ng men</tspan></text></g>
<g id="n_destabilize" class="nd b" transform="translate(696,765.1)"><circle r="25"/><text><tspan x="0" y="-2.7">destab</tspan><tspan x="0" y="11.3">ilize</tspan></text></g>
<g id="n_eatsaway" class="nd b" transform="translate(896.6,772.8)"><circle r="25"/><text><tspan x="0" y="-2.7">eats a</tspan><tspan x="0" y="11.3">way at</tspan></text></g>
<g id="n_notheld" class="nd b" transform="translate(747.6,777.4)"><circle r="25"/><text><tspan x="0" y="-2.7">not he</tspan><tspan x="0" y="11.3">ld acc</tspan></text></g>
<g id="n_undermines" class="nd b" transform="translate(850.5,787.5)"><circle r="25"/><text><tspan x="0" y="-2.7">underm</tspan><tspan x="0" y="11.3">ines t</tspan></text></g>
<g id="n_muffles" class="nd b" transform="translate(799.5,795.8)"><circle r="25"/><text><tspan x="0" y="-2.7">muffle</tspan><tspan x="0" y="11.3">s the</tspan></text></g>
<g id="n_victimblami_r" class="nd g" transform="translate(1190,92.5)"><circle r="25"/><text><tspan x="0" y="-2.7">Victim</tspan><tspan x="0" y="11.3">-blami</tspan></text></g>
<g id="n_denial_r" class="nd g" transform="translate(1302,311.5)"><circle r="25"/><text y="4.3">Denial</text></g>
<g id="n_makesthevi" class="nd tl" transform="translate(1551.7,248.9)"><circle r="25"/><text><tspan x="0" y="-2.7">makes</tspan><tspan x="0" y="11.3">the vi</tspan></text></g>
<g id="n_victimshami_r" class="nd g" transform="translate(1226,745.5)"><circle r="25"/><text><tspan x="0" y="-2.7">Victim</tspan><tspan x="0" y="11.3">-shami</tspan></text></g>
<g id="n_leadstolow" class="nd tl" transform="translate(1437,899.5)"><circle r="25"/><text><tspan x="0" y="-2.7">leads</tspan><tspan x="0" y="11.3">to low</tspan></text></g>
<g id="n_lying_r" class="nd g" transform="translate(1036,914)"><circle r="25"/><text y="4.3">Lying</text></g>
<g id="n_destructive" class="nd h" transform="translate(773.7,429.3)"><circle r="25"/><text><tspan x="0" y="-2.7">Destru</tspan><tspan x="0" y="11.3">ctive</tspan></text></g>
</g>
<line id="scrollbar" x1="182" y1="966.4" x2="753" y2="966.4" stroke="#000" stroke-width="9.5" stroke-linecap="round"/>
</g>
</svg>
